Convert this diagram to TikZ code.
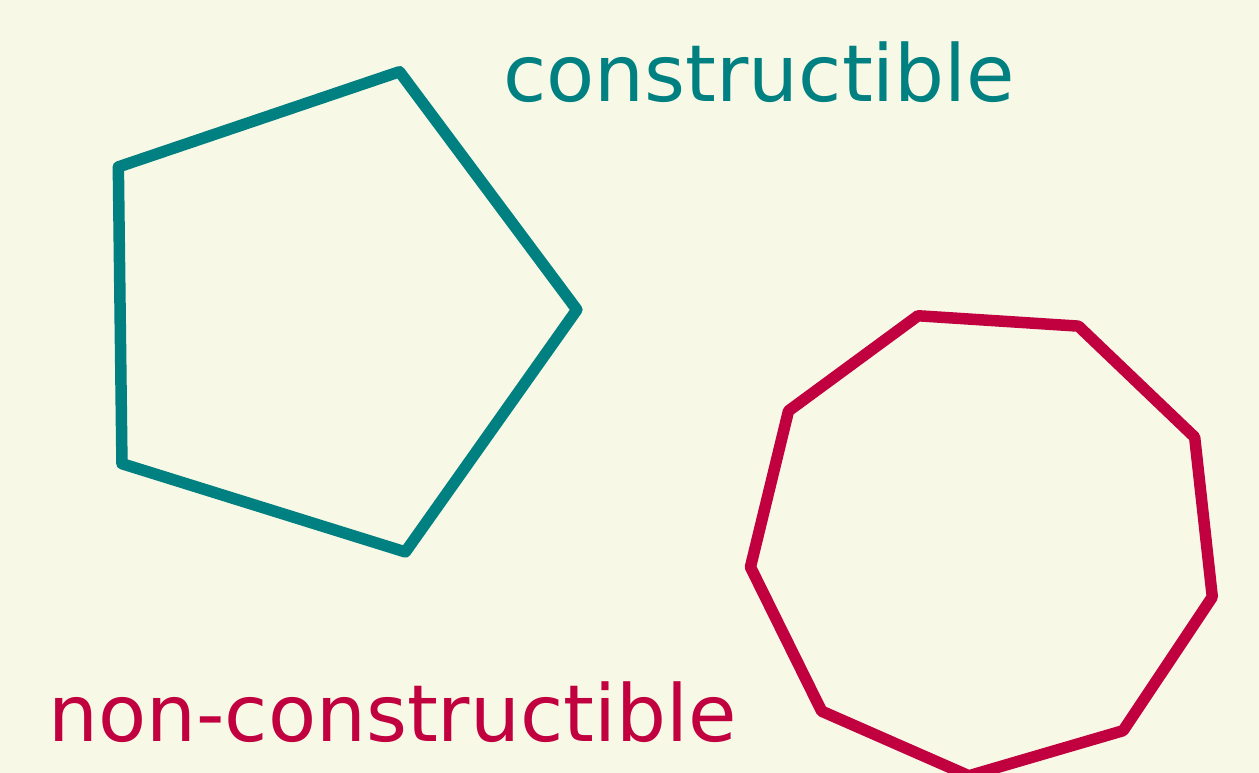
\documentclass[tikz,border=0pt]{standalone}
\usepackage{fontspec}
\setmainfont{DejaVu Sans}
\usetikzlibrary{calc}
\definecolor{bgcream}{HTML}{F8F8E6}
\definecolor{cteal}{HTML}{008080}
\definecolor{ccrimson}{HTML}{C0003F}
\newcommand{\pxu}{0.02cm}
\newcommand{\polyw}{0.23cm}
\tikzset{
  polyline/.style={line width=\polyw, line join=round},
  polylabel/.style={anchor=base west, inner sep=0pt, font=\fontsize{44.8}{54}\selectfont}
}
\begin{document}
\begin{tikzpicture}[x=\pxu,y=-\pxu]
  % background and picture size
  \fill[bgcream] (0,0) rectangle (1259,773);
  \useasboundingbox (0,0) rectangle (1259,773);
  % constructible pentagon
  \coordinate (pent) at (324.4,312.8);
  \draw[polyline,cteal] ($(pent)+(-0.7:252.5)$)
    \foreach \k in {1,...,4} { -- ($(pent)+({-0.7+72*\k}:252.5)$) } -- cycle;
  % non-constructible nonagon
  \coordinate (nona) at (984,541.3);
  \draw[polyline,ccrimson] ($(nona)+(13.7:235)$)
    \foreach \k in {1,...,8} { -- ($(nona)+({13.7+40*\k}:235)$) } -- cycle;
  \node[polylabel,text=cteal] (lblcon) at (503,102) {constructible};
  \node[polylabel,text=ccrimson] (lblnon) at (48,742) {non-constructible};
\end{tikzpicture}
\end{document}
